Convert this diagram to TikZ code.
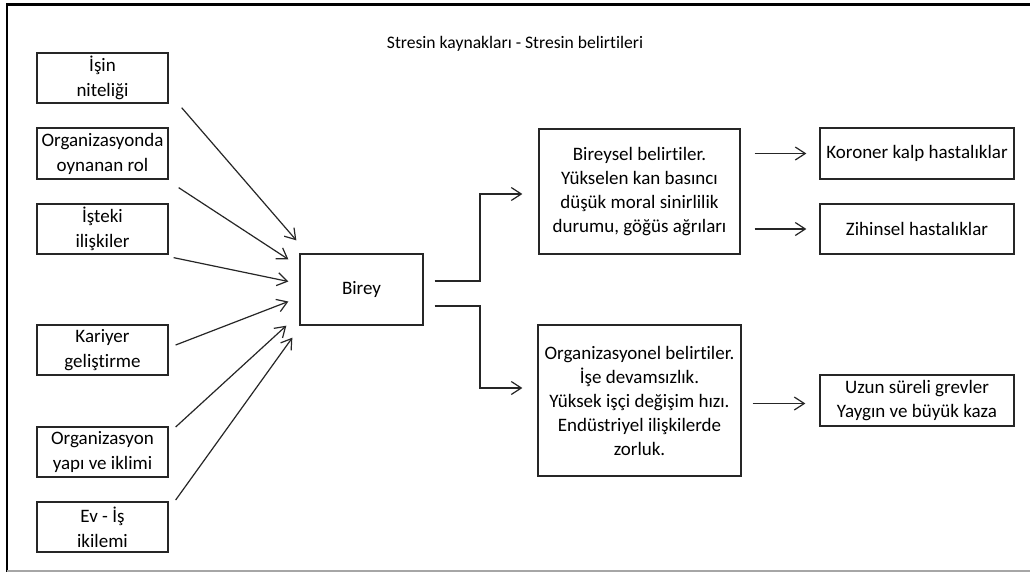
\documentclass[tikz,border=0pt]{standalone}
\usepackage{fontspec}
\setmainfont{Carlito}[Ligatures=NoCommon]
\usetikzlibrary{arrows.meta}
\begin{document}
\begin{tikzpicture}[x=1pt,y=-1pt,
  box/.style={draw=black!85, line width=1.3pt, align=center, inner sep=0pt,
    font=\fontsize{19}{24}\selectfont},
  lbox/.style={box, minimum width=131, font=\fontsize{19}{25}\selectfont},
  arr/.style={line width=1.2pt, draw=black!85, -{Straight Barb[length=10pt,width=13pt,line width=1.2pt]}},
  conn/.style={line width=1.2pt, draw=black!85}]
\useasboundingbox (0,0) rectangle (1030,573);
\fill[white] (0,0) rectangle (1030,573);
% frame
\draw[line width=3pt] (7,4.5) -- (1030,4.5);
\draw[line width=2.5pt] (7,3) -- (7,572);
\draw[line width=1.5pt, black!35] (7,571) -- (1030,571);
% title
\node[font=\fontsize{17.6}{22}\selectfont] (title) at (515,44) {Stresin kaynakları - Stresin belirtileri};
% left boxes
\node[lbox, minimum height=50] (b1) at (102.5,78) {İşin\\niteliği};
\node[lbox, minimum height=51] (b2) at (102.5,153.5) {Organizasyonda\\oynanan rol};
\node[lbox, minimum height=50] (b3) at (102.5,229) {İşteki\\ilişkiler};
\node[lbox, minimum height=50] (b4) at (102.5,350) {Kariyer\\geliştirme};
\node[lbox, minimum height=50] (b5) at (102.5,452) {Organizasyon\\yapı ve iklimi};
\node[lbox, minimum height=50] (b6) at (102.5,527) {Ev - İş\\ikilemi};
% center
\node[box, minimum width=123, minimum height=71] (birey) at (361.5,289.5) {Birey};
% middle boxes
\node[box, minimum width=201, minimum height=125] (bir) at (639.5,191.5) {Bireysel belirtiler.\\Yükselen kan basıncı\\düşük moral sinirlilik\\durumu, göğüs ağrıları};
\node[box, minimum width=203, minimum height=151] (org) at (639.5,400.5) {Organizasyonel belirtiler.\\İşe devamsızlık.\\Yüksek işçi değişim hızı.\\Endüstriyel ilişkilerde\\zorluk.};
% right boxes
\node[box, minimum width=194, minimum height=51] (kor) at (917,153.5) {Koroner kalp hastalıklar};
\node[box, minimum width=194, minimum height=50] (zih) at (917,229) {Zihinsel hastalıklar};
\node[box, minimum width=194, minimum height=51] (uzun) at (917,400.5) {Uzun süreli grevler\\Yaygın ve büyük kaza};
% arrows into Birey
\draw[arr] ([shift={(13,4)}]b1.south east) -- ([shift={(-3,-13)}]birey.north west);
\draw[arr] ([shift={(10,8)}]b2.south east) -- ([shift={(-11,6)}]birey.north west);
\draw[arr] ([shift={(5,3)}]b3.south east) -- ([shift={(-11,-8)}]birey.west);
\draw[arr] ([shift={(7,-5)}]b4.east) -- ([shift={(-11,12)}]birey.west);
\draw[arr] ([shift={(7,-25)}]b5.east) -- ([shift={(-13,0)}]birey.south west);
\draw[arr] ([shift={(7,-27)}]b6.east) -- ([shift={(-7,12)}]birey.south west);
% from Birey to symptoms
\coordinate (u1) at ([xshift=11]birey.east |- 0,281);
\coordinate (l1) at ([xshift=11]birey.east |- 0,306);
\draw[arr] (u1) -- (480,281) |- ([xshift=-16]bir.west |- 0,194);
\draw[arr] (l1) -- (480,306) |- ([xshift=-15]org.west |- 0,388);
% to right boxes
\draw[arr] ([xshift=14]bir.east |- kor.west) -- ([xshift=-13]kor.west);
\draw[arr] ([xshift=14]bir.east |- zih.west) -- ([xshift=-13]zih.west);
\draw[arr] ([xshift=11]org.east |- 0,403.5) -- ([xshift=-14]uzun.west |- 0,403.5);
\end{tikzpicture}
\end{document}
